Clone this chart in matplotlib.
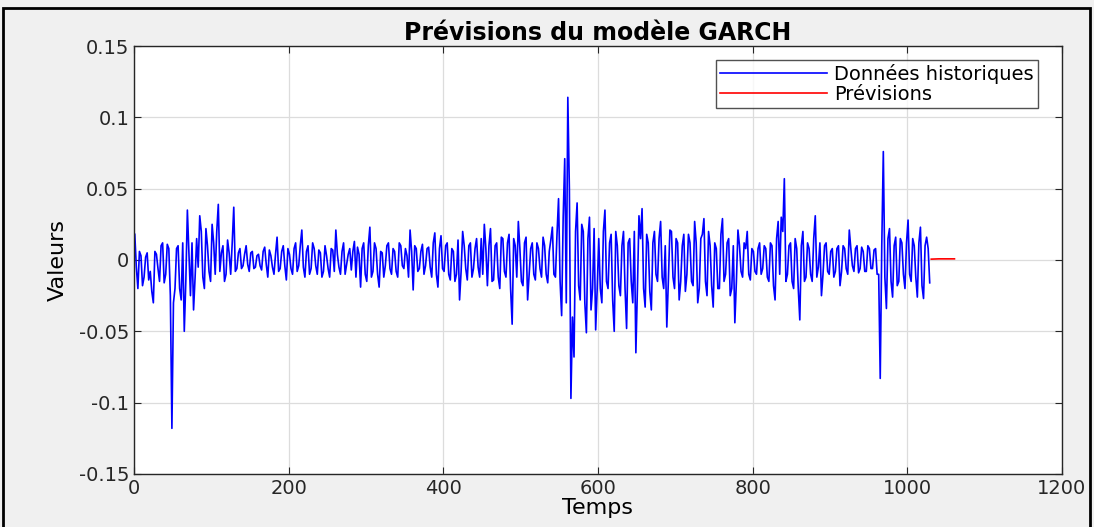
import numpy as np
import matplotlib
matplotlib.use('Agg')
import matplotlib.pyplot as plt
from matplotlib.patches import Rectangle

plt.rcParams['font.family'] = ['DejaVu Sans']

# historical series, read every 4 time steps (t = 1, 5, 9, ...)
hist_0_200 = [0.018, -0.02, 0.003, -0.012, 0.005, -0.008, -0.03, 0.004, -0.015, 0.012,
              -0.01, 0.008, -0.118, -0.02, 0.01, -0.028, -0.05, 0.035, -0.025, -0.035,
              0.015, 0.031, -0.012, 0.022, -0.008, 0.025, -0.01, 0.039, 0.005, -0.015,
              0.014, -0.01, 0.037, -0.006, 0.008, -0.004, 0.01, -0.008, 0.006, -0.005,
              0.004, -0.007, 0.009, -0.012, 0.003, -0.01, 0.016, -0.006, 0.01, -0.014]
hist_200_400 = [0.004, -0.01, 0.012, -0.004, 0.021, -0.012, 0.01, -0.006, 0.008, -0.01,
                0.005, -0.008, 0.003, -0.012, 0.007, 0.021, -0.005, 0.006, -0.01, 0.004,
                -0.007, 0.013, 0.009, -0.019, 0.012, -0.015, 0.023, -0.008, 0.008, -0.019,
                0.005, -0.004, 0.012, -0.01, 0.006, -0.012, 0.01, -0.006, 0.003, 0.021,
                -0.021, 0.008, -0.006, 0.011, -0.004, 0.009, -0.012, 0.019, -0.019, 0.017]
hist_400_600 = [-0.008, 0.012, -0.014, 0.006, -0.01, -0.028, 0.02, -0.006, 0.01, -0.012,
                0.008, -0.005, 0.015, 0.025, -0.018, 0.022, -0.014, 0.012, -0.02, 0.015,
                -0.012, 0.018, -0.045, 0.01, 0.027, -0.015, 0.012, -0.028, 0.008, -0.01,
                0.012, -0.006, 0.016, -0.01, 0.006, 0.023, -0.012, 0.043, -0.039, 0.071,
                0.114, -0.097, -0.068, 0.04, -0.028, 0.02, -0.051, 0.03, -0.02, -0.049]
hist_600_800 = [0.015, -0.03, 0.035, -0.02, 0.018, -0.05, 0.01, -0.025, 0.02, -0.048,
                0.015, -0.03, -0.065, 0.031, 0.036, -0.033, 0.012, -0.035, 0.02, -0.015,
                0.027, -0.02, -0.047, 0.021, -0.012, 0.015, -0.028, 0.01, -0.022, 0.018,
                -0.015, 0.027, -0.03, 0.015, 0.029, -0.025, 0.01, -0.033, 0.008, -0.02,
                0.029, -0.01, 0.015, -0.02, -0.044, 0.021, -0.008, 0.012, 0.02, -0.014]
hist_800_1000 = [0.006, -0.01, 0.012, -0.006, 0.008, -0.015, 0.01, -0.028, 0.027, 0.03,
                 0.057, -0.01, 0.012, -0.02, 0.008, -0.042, 0.02, -0.012, 0.008, -0.015,
                 0.031, -0.005, -0.025, 0.01, -0.008, 0.006, -0.012, 0.008, -0.018, 0.01,
                 -0.006, 0.021, -0.004, 0.008, -0.009, 0.009, -0.008, 0.01, -0.006, 0.007,
                 -0.01, -0.083, 0.076, -0.034, 0.022, -0.026, 0.016, -0.015, 0.012, -0.02]
hist_1000_end = [0.028, -0.015, 0.01, -0.026, 0.023, -0.027, 0.016, -0.016]

# in-between readings (t = 3, 7, 11, ...)
mid_0_200 = [-0.005, 0.006, -0.018, 0.002, -0.014, -0.022, 0.006, -0.006, 0.01, -0.016,
             0.011, -0.025, -0.03, 0.008, -0.02, 0.012, -0.015, 0.005, 0.012, -0.012,
             -0.005, 0.02, -0.02, 0.01, -0.015, 0.012, 0.02, -0.008, 0.01, -0.01,
             0.005, 0.012, -0.008, 0.005, -0.006, 0.004, -0.003, 0.005, -0.006, 0.003,
             -0.004, 0.006, -0.003, 0.007, -0.005, 0.004, -0.008, 0.006, -0.004, 0.008]
mid_200_400 = [-0.006, 0.008, -0.008, 0.01, -0.005, 0.006, -0.01, 0.012, -0.004, 0.007,
               -0.012, 0.01, -0.006, 0.008, -0.008, 0.004, -0.01, 0.012, -0.003, 0.008,
               0.006, -0.012, 0.004, 0.008, -0.01, 0.01, -0.012, 0.012, -0.01, 0.006,
               -0.012, 0.01, -0.006, 0.008, -0.008, 0.012, -0.004, 0.008, -0.012, 0.006,
               0.01, -0.008, 0.006, -0.01, 0.008, -0.005, 0.012, -0.01, 0.008, -0.006]
mid_400_600 = [0.01, -0.01, 0.008, -0.015, 0.014, -0.008, 0.01, -0.014, 0.012, -0.006,
               0.015, -0.012, -0.01, 0.008, 0.01, -0.015, 0.01, -0.012, 0.016, -0.008,
               0.012, -0.02, 0.015, -0.012, 0.008, -0.018, 0.016, -0.01, 0.012, -0.014,
               0.008, -0.012, 0.01, -0.016, 0.014, -0.01, 0.018, -0.015, 0.03, -0.03,
               0.05, -0.04, 0.02, -0.018, 0.025, -0.03, 0.015, -0.035, 0.022, -0.02]
mid_600_800 = [-0.02, 0.02, -0.015, 0.012, -0.028, 0.02, -0.018, 0.01, -0.02, 0.012,
               -0.015, 0.02, -0.02, 0.015, -0.02, 0.018, -0.022, 0.012, -0.01, 0.015,
               -0.012, 0.01, -0.015, 0.02, -0.02, 0.012, -0.015, 0.018, -0.01, 0.012,
               -0.018, 0.012, -0.02, 0.018, -0.015, 0.02, -0.018, 0.012, -0.02, 0.018,
               -0.015, 0.012, -0.025, 0.01, -0.015, 0.01, -0.012, 0.008, -0.01, 0.008]
mid_800_1000 = [-0.008, 0.008, -0.01, 0.01, -0.012, 0.012, -0.018, 0.015, -0.01, 0.02,
                -0.015, 0.01, -0.015, 0.015, -0.02, 0.01, -0.015, 0.012, -0.01, 0.015,
                -0.012, 0.012, -0.01, 0.012, -0.01, 0.008, -0.008, 0.01, -0.008, 0.008,
                -0.01, 0.008, -0.008, 0.01, -0.006, 0.006, -0.008, 0.008, -0.006, 0.008,
                -0.01, 0.01, -0.012, 0.015, -0.015, 0.01, -0.018, 0.015, -0.01, 0.012]
mid_1000_end = [-0.01, 0.015, -0.012, 0.012, -0.018, 0.01, 0.008]

forecast = [0.0006, 0.0007, 0.0008, 0.0008, 0.0008, 0.0008, 0.0008]

hist = np.array(hist_0_200 + hist_200_400 + hist_400_600 + hist_600_800
                + hist_800_1000 + hist_1000_end)
mid = np.array(mid_0_200 + mid_200_400 + mid_400_600 + mid_600_800
               + mid_800_1000 + mid_1000_end)
t_all = np.concatenate([1 + 4 * np.arange(len(hist)), 3 + 4 * np.arange(len(mid))])
v_all = np.concatenate([hist, mid])
order = np.argsort(t_all)
t_hist, v_hist = t_all[order], v_all[order]
t_fc = t_hist[-1] + 2 + 5 * np.arange(len(forecast))

fig = plt.figure(figsize=(10.94, 5.27), dpi=100, facecolor='#f0f0f0')
ax = fig.add_axes([0.1225, 0.1006, 0.8482, 0.8121])
ax.plot(t_hist, v_hist, color='b', lw=1.2, label='Données historiques')
ax.plot(t_fc, forecast, color='r', lw=1.2, label='Prévisions')

ax.set_xlim(0, 1200)
ax.set_ylim(-0.15, 0.15)
ax.set_xticks(np.arange(0, 1201, 200))
ax.set_yticks([-0.15, -0.1, -0.05, 0, 0.05, 0.1, 0.15])
ax.set_yticklabels(['-0.15', '-0.1', '-0.05', '0', '0.05', '0.1', '0.15'])
ax.grid(True, color='#dcdcdc', lw=0.9)
ax.set_axisbelow(True)
ax.tick_params(direction='in', top=True, right=True, labelsize=14,
               colors='#262626', length=5)
for s in ax.spines.values():
    s.set_color('#262626')
    s.set_linewidth(1.0)

ax.set_title('Prévisions du modèle GARCH', fontsize=17, fontweight='bold', pad=4)
ax.set_xlabel('Temps', fontsize=16, labelpad=0)
ax.set_ylabel('Valeurs', fontsize=16, labelpad=8)
ax.legend(loc='upper right', fontsize=14, handlelength=5.5, frameon=True,
          fancybox=False, edgecolor='#262626', borderpad=0.2, labelspacing=0.05,
          handletextpad=0.4, borderaxespad=0, bbox_to_anchor=(0.974, 0.967))

fig.patches.append(Rectangle((3 / 1094, -0.02), 1087 / 1094, 1.0 - 8 / 527 + 0.02,
                             transform=fig.transFigure, fill=False,
                             edgecolor='black', lw=2))

fig.savefig('out.png', dpi=100, facecolor=fig.get_facecolor())
